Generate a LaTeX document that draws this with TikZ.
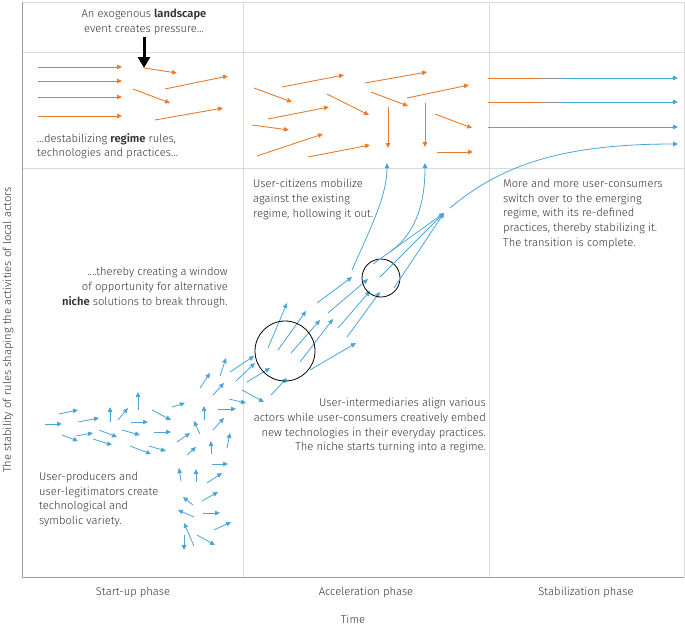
\documentclass[tikz,border=0pt]{standalone}
\usepackage{fontspec}
\setmainfont{Fira Sans}[UprightFont=* Light, BoldFont=* SemiBold]
\usetikzlibrary{arrows.meta}

\definecolor{regimeorange}{HTML}{E87B2E}
\definecolor{nicheblue}{HTML}{4AA3D9}
\definecolor{gridgrey}{HTML}{DADADA}
\definecolor{axisgrey}{HTML}{9E9E9E}
\definecolor{textgrey}{HTML}{333333}

\tikzset{
  regime/.style={draw=regimeorange, line width=0.9pt, -{Triangle[length=5pt,width=4.5pt]}},
  niche/.style={draw=nicheblue, line width=0.8pt, -{Triangle[length=5pt,width=4.5pt]}},
  story/.style={font=\fontsize{11.2}{14.7}\selectfont, text=textgrey, inner sep=0pt},
}

\begin{document}
\begin{tikzpicture}[x=1pt, y=-1pt]
  \useasboundingbox (0,0) rectangle (685,625);

  % frame and phases
  \draw[gridgrey] (22,2) -- (684,2) -- (684,577);
  \draw[gridgrey] (22,52.5) -- (684,52.5);
  \draw[gridgrey] (22,168) -- (684,168);
  \draw[gridgrey] (243,2) -- (243,577);
  \draw[gridgrey] (489,2) -- (489,577);
  \draw[axisgrey] (22,2) -- (22,577) -- (684,577);

  \node[story, rotate=90] (stability) at (8,330) {The stability of rules shaping the activities of local actors};
  \node[story] (startup) at (133,592) {Start-up phase};
  \node[story] (acceleration) at (366,592) {Acceleration phase};
  \node[story] (stabilization) at (586,592) {Stabilization phase};
  \node[story] (time) at (353,619) {Time};

  % landscape pressure
  \node[story, align=center, anchor=north] (landscape) at (144,9) {An exogenous \textbf{landscape}\\event creates pressure\ldots};
  \coordinate (shock) at (144,68);
  \draw[line width=3pt, -{Triangle[length=11pt,width=12pt]}] (144,37) -- (shock);

  % regime level
  \foreach \xa/\ya/\xb/\yb in {38/67/122/67, 38/81/122/81, 38/97/122/97, 38/116/122/116,
      144/68/177/73, 133/89/170/103, 165/89/228/76, 155/120/223/108,
      254/88/292/102, 282/87/344/75, 268/119/329/107, 252/125/289/130,
      257/156/323/134, 308/157/370/145, 327/94/369/115, 365/83/427/72,
      371/92/408/106, 407/98/469/85, 388/107/388/148, 425/103/425/147,
      435/114/472/128, 437/152/473/152}
    \draw[regime] (\xa,\ya) -- (\xb,\yb);
  \node[story, align=left, anchor=north west] (destabilize) at (37,133) {\ldots destabilizing \textbf{regime} rules,\\technologies and practices\ldots};

  % new regime
  \foreach \y in {78,102,127} {
    \draw[regimeorange, line width=0.9pt] (488,\y) -- (528,\y);
    \foreach \i in {0,...,9}
      \draw[regimeorange!\fpeval{100-10*\i}!nicheblue, line width=0.9pt] (528+4*\i,\y) -- (532.5+4*\i,\y);
    \draw[niche] (568,\y) -- (678,\y);
  }

  % niche level
  \foreach \xa/\ya/\xb/\yb in {59/414/78/410, 45/424/62/424, 78/422/99/418, 110/422/110/407,
      118/420/128/408, 138/410/138/392, 62/435/78/441, 76/436/93/433,
      99/430/117/437, 93/439/112/445, 122/430/140/435, 131/422/148/422,
      130/446/151/454, 149/446/166/451, 152/410/171/420, 154/432/171/432,
      172/407/185/403, 177/442/190/433, 187/455/196/447, 200/434/194/421,
      204/420/204/406, 211/454/211/441, 213/430/224/418, 218/409/236/409,
      227/448/230/433, 213/395/224/383, 200/388/210/373, 220/376/226/358,
      229/399/246/403,
      181/481/179/468, 196/482/196/469, 212/464/228/464, 207/483/222/473,
      193/505/183/497, 202/501/218/492, 194/517/178/510, 203/513/220/513,
      214/530/231/522, 194/546/184/523, 184/535/184/550, 197/535/215/545,
      230/372/254/356, 236/381/255/363, 247/382/270/368, 242/390/264/402,
      271/395/287/378, 268/348/287/303, 278/350/306/311, 291/353/320/320,
      300/362/333/319, 310/370/356/343, 317/303/352/277, 328/313/368/279,
      338/328/370/291, 347/337/380/292}
    \draw[niche] (\xa,\ya) -- (\xb,\yb);

  \draw[line width=0.8pt] (285,351) circle[radius=30];
  \draw[line width=0.8pt] (381,278) circle[radius=19];

  \coordinate (merge) at (444,213);
  \draw[niche] (373,264) -- (merge);
  \draw[niche] (380,277) -- (merge);
  \draw[niche] (394,288) -- (merge);
  \draw[niche] (352,270) .. controls (372,225) and (387,195) .. (387,163);
  \draw[niche] (390,252) .. controls (412,236) and (425,210) .. (425,163);
  \draw[niche] (450,208) .. controls (500,166) and (560,144) .. (678,144);

  % stories
  \node[story, align=right, anchor=north east] (window) at (228,267) {....thereby creating a window\\of opportunity for alternative\\\textbf{niche} solutions to break through.};
  \node[story, align=left, anchor=north west] (citizens) at (253,179) {User-citizens mobilize\\against the existing\\regime, hollowing it out.};
  \node[story, align=left, anchor=north west] (consumers) at (503,179) {More and more user-consumers\\switch over to the emerging\\regime, with its re-defined\\practices, thereby stabilizing it.\\The transition is complete.};
  \node[story, align=right, anchor=north east] (intermediaries) at (486,398) {User-intermediaries align various\\actors while user-consumers creatively embed\\new technologies in their everyday practices.\\The niche starts turning into a regime.};
  \node[story, align=left, anchor=north west] (producers) at (39,472) {User-producers and\\user-legitimators create\\technological and\\symbolic variety.};
\end{tikzpicture}
\end{document}
